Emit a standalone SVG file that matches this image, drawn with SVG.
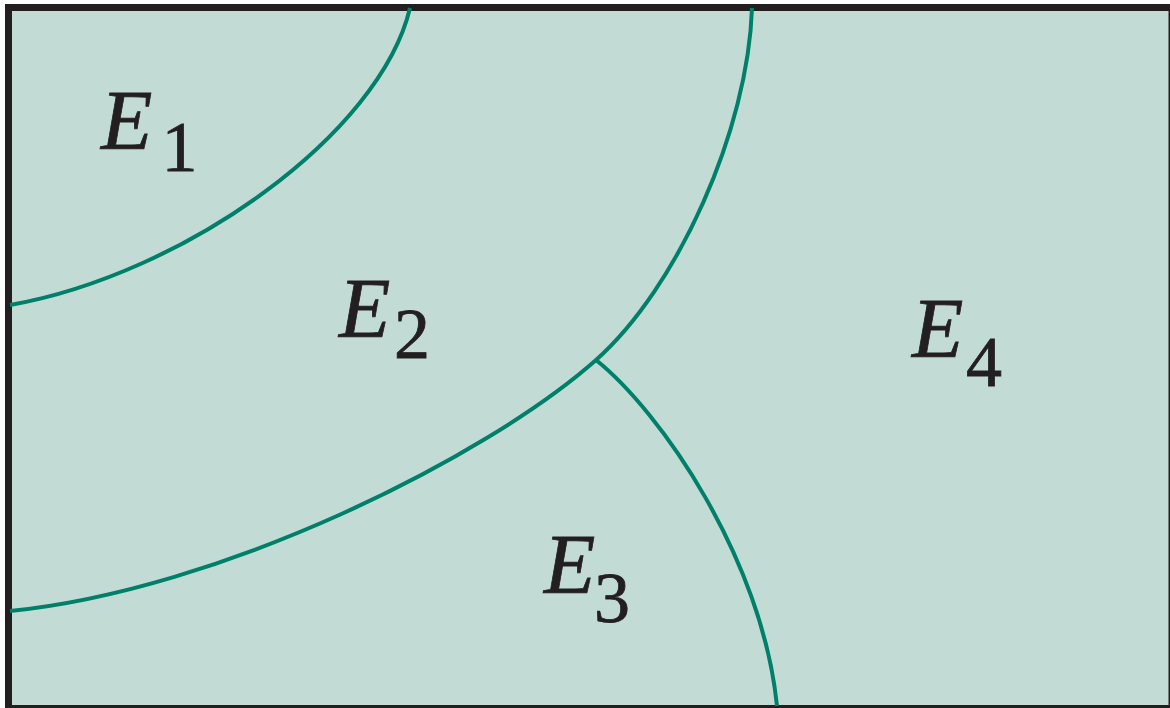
<svg xmlns="http://www.w3.org/2000/svg" width="1170" height="708" viewBox="0 0 1170 708">
<style>
.bg{fill:#c2dcd5;stroke:#231f20;stroke-width:7}
.c{fill:none;stroke:#00806a;stroke-width:4;stroke-linecap:butt}
.E{font-family:"Liberation Serif","Times New Roman",serif;font-style:italic;font-size:84px;fill:#231f20;stroke:#231f20;stroke-width:0.8}
.d{font-family:"Liberation Serif","Times New Roman",serif;font-size:72px;fill:#231f20;stroke:#231f20;stroke-width:0.8;text-anchor:middle}
</style>
<rect class="bg" x="8.5" y="7.5" width="1163.5" height="701"/>
<g id="connectors">
<path class="c" d="M410 8 C380 134 185 274 10 305"/>
<path class="c" d="M752 8 C748 130 678 287 596 360 C484 459 220 590 10 611"/>
<path class="c" d="M596 360 C660 411 762 558 777 706"/>
</g>
<g id="E1"><text class="E" x="101" y="149">E</text><text class="d" x="179.5" y="171">1</text></g>
<g id="E2"><text class="E" x="339" y="337">E</text><text class="d" x="412" y="358">2</text></g>
<g id="E3"><text class="E" x="544" y="593">E</text><text class="d" x="612" y="622">3</text></g>
<g id="E4"><text class="E" x="912" y="357">E</text><text class="d" x="984" y="386">4</text></g>
</svg>
